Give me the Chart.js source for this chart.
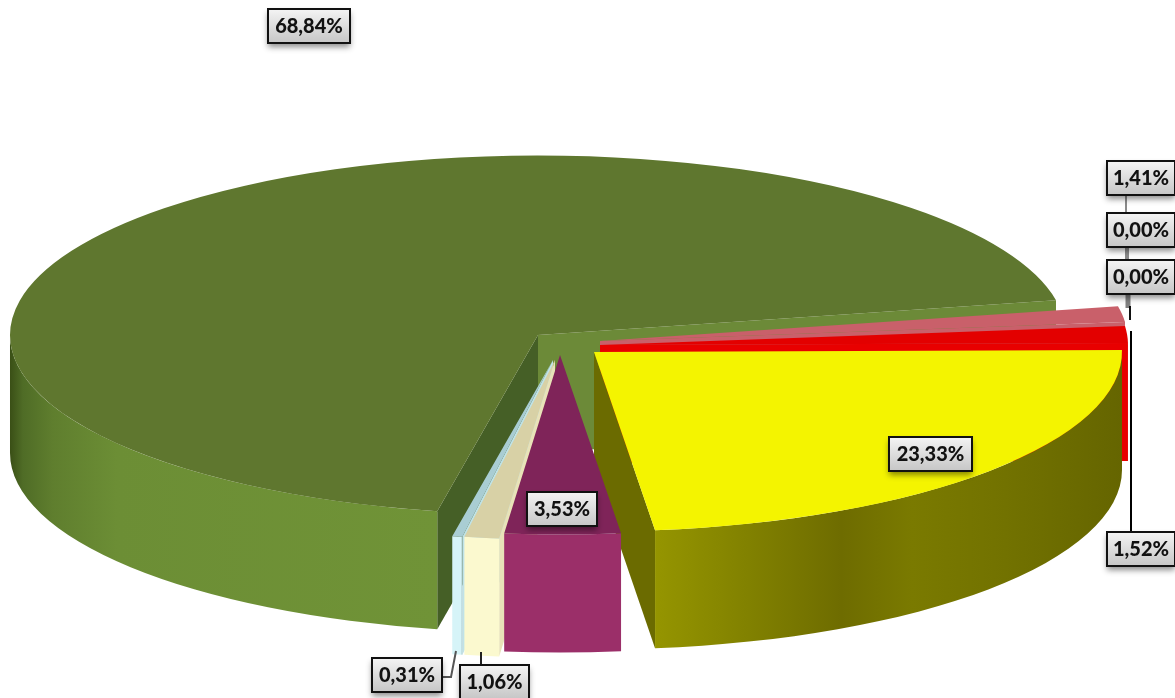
<!DOCTYPE html>
<html lang="en">
<head>
    <meta charset="UTF-8">
    <title>3D pie</title>
    <script src="https://cdn.jsdelivr.net/npm/chart.js"></script>
    <style>
        html, body { margin: 0; background: #fff; overflow: hidden; }
        canvas { display: block; }
    </style>
</head>
<body>
<canvas id="pieChart" width="1175" height="698"></canvas>

<script>
    // data, clockwise starting from the big green slice
    var categories = ['A', 'B', 'C', 'D', 'E', 'F', 'G', 'H', 'I'];
    var values = [68.84, 1.41, 0.00, 0.00, 1.52, 23.33, 3.53, 1.06, 0.31];

    // colours
    var topColors = ['#5f772f', '#c9606a', '#cccccc', '#cccccc', '#e30000', '#f4f400', '#7f2459', '#d8d1a6', '#a9cdd3'];
    var startWallColors = ['#455f26', '#c9606a', '#999999', '#999999', '#c00000', '#6b6b00', '#7f2459', '#e8e2b8', '#bfe3e8'];
    var endWallColors = ['#6c8a38', '#c9606a', '#999999', '#999999', '#e80000', '#6b6b00', '#7f2459', '#e8e2b8', '#bfe3e8'];
    var sideShades = [
        [[0, '#3a4f16'], [0.03, '#4f6c26'], [0.1, '#5f7e2e'], [0.25, '#6c8e35'], [1, '#709337']],
        [[0, '#b05058'], [1, '#b05058']],
        [[0, '#999999'], [1, '#999999']],
        [[0, '#999999'], [1, '#999999']],
        [[0, '#e80000'], [1, '#e80000']],
        [[0, '#959500'], [0.2, '#818100'], [0.4, '#6e6c00'], [0.55, '#7a7a00'], [0.75, '#727200'], [1, '#656500']],
        [[0, '#9b2f69'], [1, '#9b2f69']],
        [[0, '#fbf9cf'], [1, '#fbf9cf']],
        [[0, '#d6f4f8'], [0.85, '#d6f4f8'], [1, '#a6c4c8']]
    ];

    // how far each slice is pulled out of the pie, in pixels
    var shiftX = [-2, 60, 0, 0, 60, 54, 20, 15, 13];
    var shiftY = [0, 6, 0, 0, 10, 17, 20, 25, 25];

    // label boxes: left, top, width
    var boxLeft = [268, 1107, 1107, 1107, 1107, 889, 527, 460, 372];
    var boxTop = [9, 161, 213, 260, 532, 437, 492, 665, 658];
    var boxWidth = [82, 68, 68, 68, 68, 83, 70, 69, 70];

    var drawOrder = [0, 1, 4, 5, 8, 7, 6];
    var tilt = 0.34;
    var depth = 118;

    function addSide(ctx, i, arc) {
        var r = arc.outerRadius;
        var ex = arc.x + shiftX[i];
        var ey = arc.y + shiftY[i];
        var a0 = arc.startAngle;
        var a1 = arc.endAngle;
        var turn = Math.PI * 2;
        while (a0 < 0) { a0 += turn; a1 += turn; }

        function wall(angle, color) {
            var px = ex + r * Math.cos(angle);
            var py = ey + r * tilt * Math.sin(angle);
            ctx.fillStyle = color;
            ctx.beginPath();
            ctx.moveTo(ex, ey);
            ctx.lineTo(px, py);
            ctx.lineTo(px, py + depth);
            ctx.lineTo(ex, ey + depth);
            ctx.closePath();
            ctx.fill();
        }
        if (Math.cos(a1) > 0) wall(a1, endWallColors[i]);
        if (Math.cos(a0) < 0) wall(a0, startWallColors[i]);

        for (var k = 0; k < 2; k++) {
            var lo = Math.max(a0, turn * k);
            var hi = Math.min(a1, turn * k + Math.PI);
            if (hi <= lo) continue;
            var x0 = ex + r * Math.cos(hi);
            var x1 = ex + r * Math.cos(lo);
            var grad = ctx.createLinearGradient(x0, 0, x1, 0);
            sideShades[i].forEach(function (s) { grad.addColorStop(s[0], s[1]); });
            ctx.fillStyle = grad;
            ctx.beginPath();
            ctx.ellipse(ex, ey, r, r * tilt, 0, lo, hi);
            ctx.ellipse(ex, ey + depth, r, r * tilt, 0, hi, lo, true);
            ctx.closePath();
            ctx.fill();
        }
    }

    // the library's arcs are flattened and extruded here instead of drawn flat
    var pie3d = {
        id: 'pie3d',
        beforeDatasetsDraw: function (chart) {
            var ctx = chart.ctx;
            var arcs = chart.getDatasetMeta(0).data;
            drawOrder.forEach(function (i) {
                var arc = arcs[i];
                ctx.save();
                addSide(ctx, i, arc);
                ctx.translate(shiftX[i], arc.y + shiftY[i]);
                ctx.scale(1, tilt);
                ctx.translate(0, -arc.y);
                arc.draw(ctx);
                ctx.restore();
            });
            return false;
        },
        afterDraw: function (chart) {
            var ctx = chart.ctx;
            ctx.save();
            drawLeaders(ctx);
            values.forEach(function (v, i) { drawLabel(ctx, v, i); });
            ctx.restore();
        }
    };

    function leader(ctx, color, width, pts) {
        ctx.strokeStyle = color;
        ctx.lineWidth = width;
        ctx.beginPath();
        pts.forEach(function (p, n) {
            if (n === 0) ctx.moveTo(p[0], p[1]); else ctx.lineTo(p[0], p[1]);
        });
        ctx.stroke();
    }

    function drawLeaders(ctx) {
        leader(ctx, '#8a8a8a', 2, [[1126, 194], [1126, 213]]);
        leader(ctx, '#8a8a8a', 4, [[1127, 247], [1127, 260]]);
        leader(ctx, '#808080', 5, [[1128, 294], [1128, 308]]);
        leader(ctx, '#111111', 2, [[1130, 306], [1130, 320]]);
        leader(ctx, '#000000', 2, [[1131, 331], [1131, 532]]);
        leader(ctx, '#555555', 2, [[441, 677], [451, 677], [456, 651]]);
        leader(ctx, '#222222', 2, [[481, 652], [481, 665]]);
    }

    function drawLabel(ctx, v, i) {
        var x = boxLeft[i], y = boxTop[i], w = boxWidth[i], h = 34;
        var grad = ctx.createLinearGradient(0, y, 0, y + h);
        grad.addColorStop(0, '#f4f4f4');
        grad.addColorStop(1, '#c6c6c6');

        ctx.save();
        ctx.shadowColor = 'rgba(0,0,0,0.45)';
        ctx.shadowBlur = 6;
        ctx.shadowOffsetY = 4;
        ctx.fillStyle = grad;
        ctx.fillRect(x, y, w, h);
        ctx.restore();

        ctx.strokeStyle = '#111111';
        ctx.lineWidth = 2;
        ctx.strokeRect(x, y, w, h);

        ctx.fillStyle = '#111111';
        ctx.font = '900 20px Lato';
        ctx.textAlign = 'center';
        ctx.textBaseline = 'middle';
        ctx.fillText(v.toFixed(2).replace('.', ',') + '%', x + w / 2, y + h / 2 + 1);
    }

    var chart = new Chart(document.getElementById('pieChart').getContext('2d'), {
        type: 'pie',
        data: {
            labels: categories,
            datasets: [{
                data: values,
                backgroundColor: topColors,
                borderWidth: 0
            }]
        },
        options: {
            responsive: false,
            animation: false,
            rotation: 191,
            radius: 528,
            layout: { padding: { right: 95, bottom: 28 } },
            plugins: {
                legend: { display: false },
                tooltip: { enabled: false }
            }
        },
        plugins: [pie3d]
    });
</script>
</body>
</html>
